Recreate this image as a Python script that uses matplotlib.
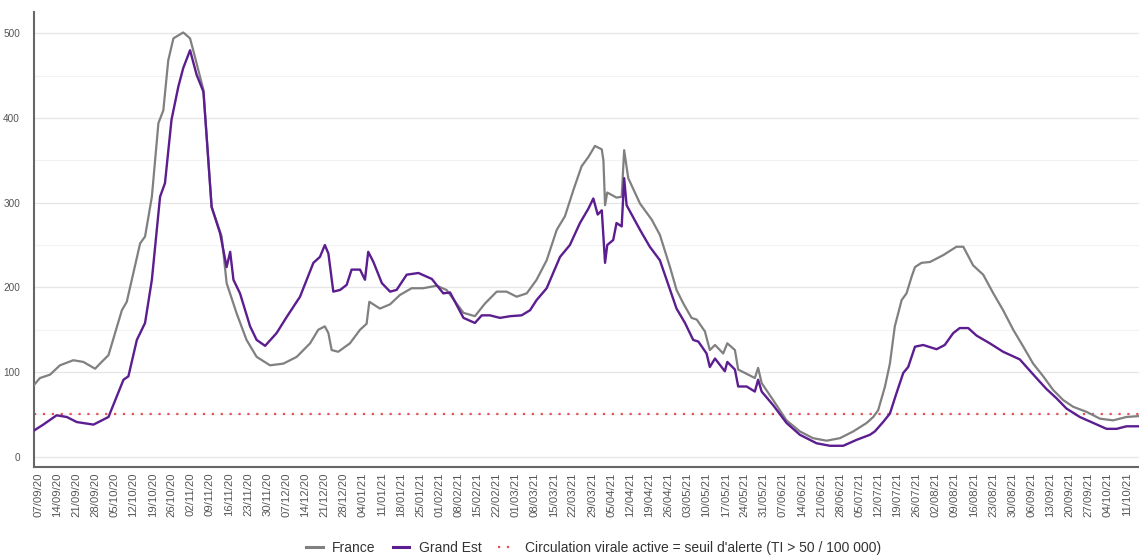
import numpy as np
import pandas as pd
import matplotlib
matplotlib.use("Agg")
import matplotlib.pyplot as plt
from matplotlib.ticker import MultipleLocator

plt.rcParams['font.family'] = ['Liberation Sans', 'DejaVu Sans']

# days since 07/09/2020
start = pd.Timestamp("2020-09-07")

fr_day = [-2, 0.7, 4.4, 8, 12.9, 16.6, 20.9, 23.3, 25.8, 28.2, 30.7, 32.5, 34.9, 37.4, 39.2,
          41.7, 44.1, 45.9, 47.7, 49.6, 53.2, 55.7, 57.5, 60.6, 63.6, 67.3, 69.1, 72.8, 76.4,
          80.1, 85, 89.9, 94.8, 99.7, 102.7, 105.1, 106.4, 107.6, 110, 114.3, 118, 120.4, 121.4,
          125.3, 129, 132.6, 136.9, 141.1, 146.1, 149.7, 155.9, 160.1, 163.8, 168.1, 171.7,
          175.4, 179.1, 182.7, 186.4, 190.1, 193.1, 196.2, 199.2, 201.7, 204.1, 206.6, 207.2,
          207.8, 208.6, 212, 213.9, 214.8, 216.3, 220.6, 224.9, 227.9, 231.6, 234, 236.5, 239.5,
          241.4, 244.4, 246.2, 248.1, 251.1, 252.6, 255.4, 256.6, 260.3, 262.7, 263.9, 265.2,
          269.4, 274.3, 279.2, 284, 289, 293.9, 298.8, 303.7, 306.1, 307.9, 310.4, 312.2, 314,
          316.5, 318.3, 320.2, 321.4, 323.8, 326.9, 331.7, 336.6, 339.1, 342.7, 346.4, 350.1,
          353.7, 357.4, 361.1, 364.7, 368.4, 372, 375.7, 379.4, 384.3, 389.2, 394, 398.9, 403.2]
fr_val = [83, 93, 97, 108, 114, 112, 104, 112, 120, 146, 173, 183, 217, 252, 260,
          307, 394, 409, 468, 494, 501, 494, 472, 433, 295, 260, 205, 169, 138,
          118, 108, 110, 118, 134, 150, 154, 146, 126, 124, 134, 150, 157, 183,
          175, 180, 191, 199, 199, 202, 197, 170, 166, 181, 195, 195,
          189, 193, 209, 232, 268, 284, 315, 343, 354, 367, 363, 350,
          297, 312, 306, 307, 362, 329, 299, 280, 262, 224, 197, 181, 164,
          162, 148, 126, 132, 122, 134, 126, 103, 97, 93, 105, 87,
          67, 43, 30, 22, 19, 22, 30, 40, 47, 55, 83, 110, 154,
          185, 193, 213, 224, 229, 230, 238, 248, 248, 226, 215, 193,
          173, 150, 130, 110, 95, 79, 67, 59, 53, 45, 43, 47, 48]

ge_day = [-2, 1.9, 6.8, 10.5, 14.2, 20.3, 25.8, 28.8, 31.3, 33.1, 36.2, 39.2, 41.7, 44.7, 46.5,
          48.9, 51.4, 53.2, 55.7, 58.1, 60.6, 63.6, 66.7, 69.1, 70.4, 71.6, 74, 77.7, 80.1, 83.2,
          87.4, 91.1, 96, 100.9, 103.3, 105.1, 106.4, 108.2, 110.7, 113.1, 114.9, 118, 119.8, 121,
          122.9, 126, 129, 131.4, 135.1, 139.4, 144.3, 148.5, 151, 155.9, 160.1, 162.6, 165.6,
          169.3, 173, 177.2, 180.3, 182.7, 186.4, 191.3, 194.9, 198.6, 201.7, 203.5, 205.1, 206.6,
          207.8, 208.6, 210.8, 212, 213.9, 214.8, 215.7, 220.6, 224.2, 227.9, 234, 237.1, 240.1,
          242, 245, 246.2, 248.1, 251.7, 252.6, 255.4, 256.6, 259.7, 262.7, 263.9, 265.2, 269.4,
          274.3, 279.2, 285.3, 290.2, 295.1, 300, 304.9, 306.7, 309.7, 312.2, 314.6, 317.1, 318.9,
          321.4, 324.4, 329.3, 332.3, 335.4, 337.8, 340.9, 344, 348.8, 353.7, 359.8, 362.3, 365.9,
          369.6, 373.3, 376.9, 381.8, 386.7, 391.6, 395.3, 398.9, 403.2]
ge_val = [30, 38, 49, 47, 41, 38, 47, 71, 91, 95, 138, 158, 209, 307, 323,
          398, 437, 459, 480, 451, 431, 295, 264, 224, 242, 209, 193, 154, 138, 131,
          146, 165, 189, 229, 236, 250, 240, 195, 197, 203, 221, 221, 209, 242,
          230, 205, 195, 197, 215, 217, 210, 193, 194, 164, 158, 167, 167,
          164, 166, 167, 173, 185, 199, 236, 250, 276, 293, 305, 286, 291,
          229, 250, 256, 276, 272, 329, 297, 268, 248, 232, 175, 158, 138,
          136, 122, 106, 116, 101, 112, 103, 83, 83, 77, 91, 77, 61,
          40, 26, 16, 13, 13, 20, 26, 30, 41, 51, 75, 99, 106,
          130, 132, 127, 132, 146, 152, 152, 143, 134, 124, 115, 106, 93,
          80, 69, 57, 47, 40, 33, 33, 36, 36]

seuil = 50
n_weeks = 58
tick_days = np.arange(0, 7 * n_weeks, 7)
tick_labels = [(start + pd.Timedelta(days=int(d))).strftime("%d/%m/%y") for d in tick_days]

red = "#e05257"
fig = plt.figure(figsize=(11.39, 5.57), dpi=100)
ax = fig.add_axes([34 / 1139, 1 - 466.7 / 557, 1 - 34 / 1139, (466.7 - 11.7) / 557])

ax.axhline(seuil, color=red, lw=1.6, ls=(0, (1, 3)), zorder=2)
ax.plot(fr_day, fr_val, color="#808080", lw=1.6, zorder=3)
ax.plot(ge_day, ge_val, color="#5b1d8f", lw=1.7, zorder=4)

ax.set_xlim(-1.5, 403.5)
ax.set_ylim(-11.7, 525.5)
ax.yaxis.set_major_locator(MultipleLocator(100))
ax.yaxis.set_minor_locator(MultipleLocator(50))
ax.grid(axis="y", which="major", color="#e6e6e6", lw=0.9)
ax.grid(axis="y", which="minor", color="#f2f2f2", lw=0.8)
ax.set_axisbelow(True)

ax.set_xticks(tick_days)
ax.set_xticklabels(tick_labels, rotation=90, fontsize=8.2, color="#555555")
ax.tick_params(axis="y", which="both", length=0, labelsize=7.2, labelcolor="#555555", pad=10)
ax.tick_params(axis="x", length=0, pad=4)

for s in ["top", "right"]:
    ax.spines[s].set_visible(False)
ax.spines["left"].set_color("#666666")
ax.spines["bottom"].set_color("#666666")
ax.spines["left"].set_linewidth(1.5)
ax.spines["bottom"].set_linewidth(1.5)

h1, = ax.plot([], [], color="#808080", lw=2.2)
h2, = ax.plot([], [], color="#5b1d8f", lw=2.2)
h3, = ax.plot([], [], color=red, lw=1.6, ls=(0, (1, 3)))
fig.legend([h1, h2, h3],
           ["France", "Grand Est", "Circulation virale active = seuil d'alerte (TI > 50 / 100 000)"],
           loc="center", bbox_to_anchor=(0.521, 0.016), ncol=3, frameon=False, fontsize=10,
           handlelength=1.2, columnspacing=1.2, handletextpad=0.7, labelcolor="#333333")

fig.savefig("out.png", dpi=100)
